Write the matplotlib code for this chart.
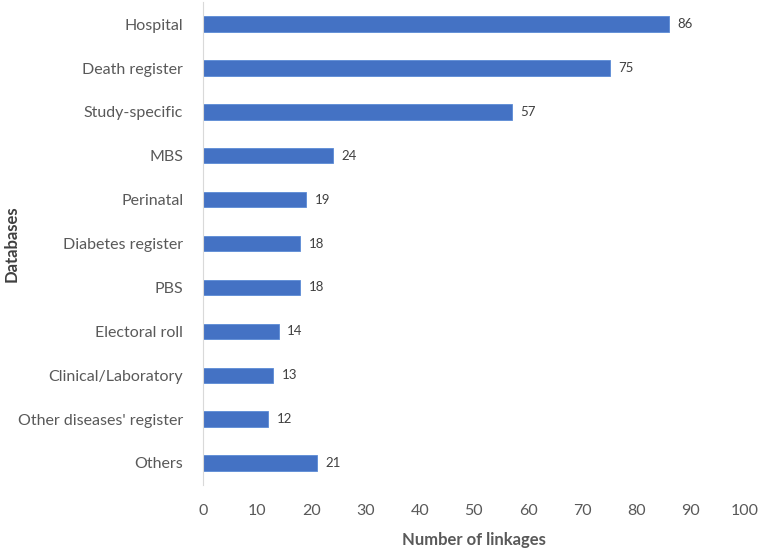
import matplotlib.pyplot as plt

plt.rcParams['font.family'] = ['Lato', 'DejaVu Sans']

databases = ["Hospital", "Death register", "Study-specific", "MBS", "Perinatal",
             "Diabetes register", "PBS", "Electoral roll", "Clinical/Laboratory",
             "Other diseases' register", "Others"]
linkages = [86, 75, 57, 24, 19, 18, 18, 14, 13, 12, 21]
xticks = list(range(0, 101, 10))

fig = plt.figure(figsize=(7.65, 5.51), dpi=100)
ax = fig.add_axes([0.265, 0.12, 0.709, 0.876])

ypos = list(range(len(databases)))
ax.barh(ypos, linkages, height=0.35, color="#4472C4", edgecolor="#5B8BD6", linewidth=0.6)
for y, v in zip(ypos, linkages):
    ax.text(v + 1.6, y, str(v), va="center", ha="left", fontsize=9.5, color="#404040")

ax.set_ylim(len(databases) - 0.5, -0.5)
ax.set_xlim(0, 100)
ax.set_xticks(xticks)
ax.set_yticks(ypos)
ax.set_yticklabels(databases)
ax.tick_params(axis="both", length=0, labelsize=11.5, colors="#595959")
ax.tick_params(axis="x", pad=14)
ax.tick_params(axis="y", pad=14)

for s in ["top", "right", "bottom"]:
    ax.spines[s].set_visible(False)
ax.spines["left"].set_color("#D9D9D9")

ax.set_xlabel("Number of linkages", fontsize=12, fontweight="bold", color="#595959", labelpad=10)
ax.set_ylabel("Databases", fontsize=12, fontweight="bold", color="#404040")
ax.yaxis.set_label_coords(-0.338, 0.5)

plt.savefig("out.png", dpi=100)
